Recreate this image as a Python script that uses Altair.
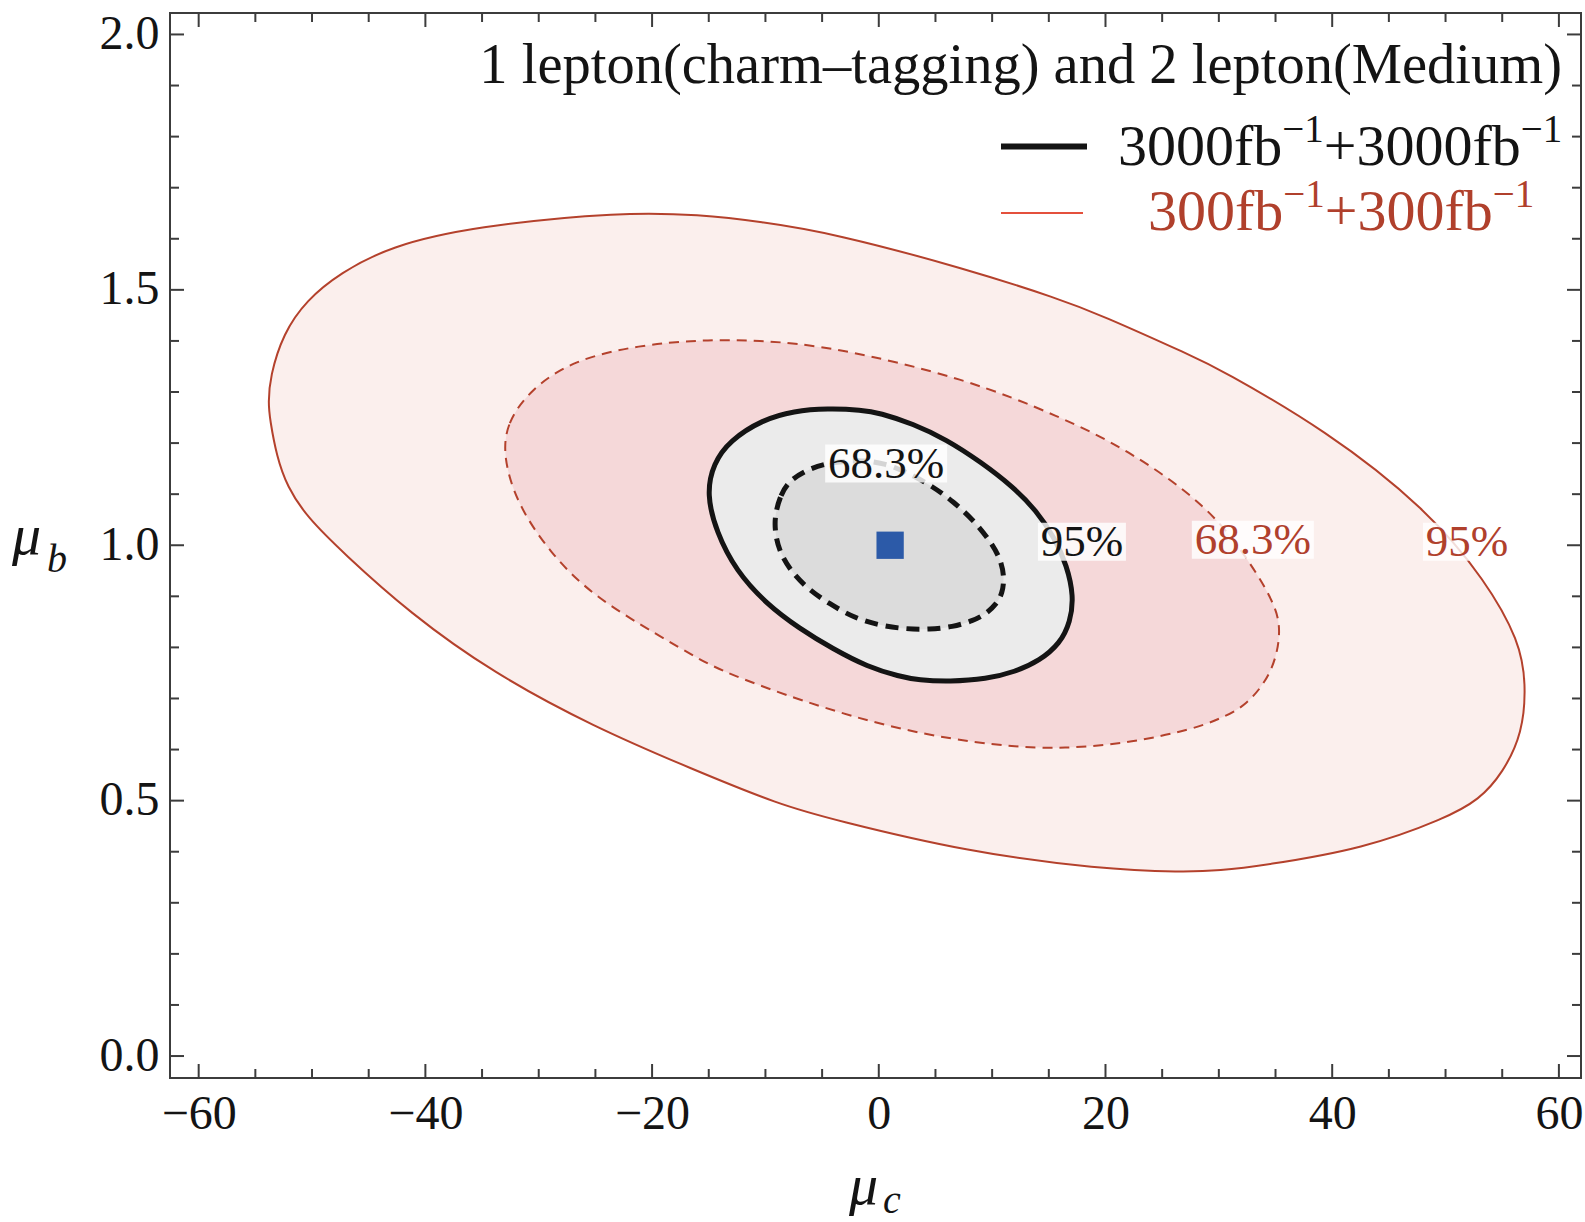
import altair as alt
import pandas as pd

# ---------------- data ----------------
X_DOMAIN = [-62.53, 61.95]
Y_DOMAIN = [-0.043, 2.042]
X_MAJOR = [-60, -40, -20, 0, 20, 40, 60]
X_MINOR = [-55, -50, -45, -35, -30, -25, -15, -10, -5, 5, 10, 15, 25, 30, 35, 45, 50, 55]
Y_MAJOR = [0.0, 0.5, 1.0, 1.5, 2.0]
Y_MINOR = [0.1, 0.2, 0.3, 0.4, 0.6, 0.7, 0.8, 0.9, 1.1, 1.2, 1.3, 1.4, 1.6, 1.7, 1.8, 1.9]

# 300 fb^-1 + 300 fb^-1 : 95% contour (solid red)
RED95_X = [-53.86, -53.71, -52.54, -50.48, -47.54, -43.13, -35.78, -22.56, -15.79, -10.50,
           -4.04, 7.72, 15.95, 19.48, 27.71, 30.06, 39.47, 48.29, 53.58, 56.52,
           57.11, 56.81, 55.04, 52.99, 49.96, 42.82, 33.91, 30.06, 26.83, 19.48,
           7.72, -4.04, -8.74, -16.38, -25.20, -34.02, -41.37, -47.25, -50.48, -52.20,
           -53.12, -53.71]
RED95_Y = [1.278, 1.330, 1.415, 1.480, 1.533, 1.585, 1.624, 1.653, 1.647, 1.634,
           1.611, 1.541, 1.482, 1.452, 1.370, 1.345, 1.225, 1.072, 0.930, 0.812,
           0.730, 0.632, 0.554, 0.502, 0.465, 0.406, 0.373, 0.363, 0.360, 0.366,
           0.400, 0.463, 0.492, 0.561, 0.645, 0.750, 0.867, 0.985, 1.056, 1.115,
           1.174, 1.246]

# 300 fb^-1 + 300 fb^-1 : 68.3% contour (dashed red)
RED68_X = [-33.14, -32.84, -30.78, -26.97, -21.08, -15.79, -10.79, -4.04, 7.72, 15.95,
           21.83, 29.18, 33.00, 35.06, 35.50, 34.76, 32.42, 30.06, 27.71, 22.42,
           16.53, 10.66, 1.84, -6.98, -13.44, -15.79, -19.32, -25.20, -29.02, -31.96]
RED68_Y = [1.174, 1.239, 1.304, 1.363, 1.392, 1.402, 1.402, 1.389, 1.326, 1.252,
           1.189, 1.076, 0.959, 0.880, 0.828, 0.750, 0.685, 0.660, 0.640, 0.614,
           0.601, 0.606, 0.637, 0.696, 0.750, 0.776, 0.822, 0.900, 0.985, 1.083]

# 3000 fb^-1 + 3000 fb^-1 : 95% contour (solid black)
BLK95_X = [-15.20, -14.60, -13.15, -10.24, -7.50, -4.50, -1.50, 0.08, 3.00, 5.96,
           9.00, 11.81, 13.90, 15.50, 16.60, 17.20, 16.90, 16.00, 14.20, 12.00,
           9.50, 6.25, 3.50, 1.84, -1.00, -4.04, -7.00, -9.91, -12.60, -14.32]
BLK95_Y = [1.100, 1.160, 1.205, 1.246, 1.263, 1.268, 1.265, 1.259, 1.238, 1.207,
           1.163, 1.115, 1.068, 1.015, 0.960, 0.900, 0.850, 0.808, 0.774, 0.752,
           0.738, 0.733, 0.736, 0.743, 0.762, 0.797, 0.837, 0.885, 0.950, 1.025]

# 3000 fb^-1 + 3000 fb^-1 : 68.3% contour (dashed black)
BLK68_X = [-9.18, -8.67, -7.86, -5.96, -4.00, -1.39, 0.50, 2.30, 4.78, 6.60,
           8.31, 9.70, 10.66, 11.10, 10.90, 10.37, 9.50, 8.31, 6.50, 4.49,
           2.30, 0.08, -2.20, -4.33, -6.30, -7.86, -8.80, -9.15]
BLK68_Y = [1.058, 1.099, 1.128, 1.152, 1.163, 1.167, 1.160, 1.145, 1.115, 1.085,
           1.050, 1.012, 0.978, 0.939, 0.905, 0.885, 0.866, 0.852, 0.840, 0.835,
           0.836, 0.843, 0.858, 0.885, 0.915, 0.952, 0.990, 1.025]

BEST_X = [1.0]
BEST_Y = [1.0]

LABEL_TEXT = ["68.3%", "95%", "68.3%", "95%"]
LABEL_X = [0.65, 17.92, 33.0, 51.89]
LABEL_Y = [1.160, 1.007, 1.011, 1.007]
LABEL_GROUP = ["black", "black", "red", "red"]

TITLE = "1 lepton(charm\u2013tagging) and 2 lepton(Medium)"

# ---------------- styles ----------------
FONT = "Liberation Serif"
RED_LINE = "#b4412c"
RED_TEXT = "#b0402c"
LEG_RED = "#e4503c"
INK = "#141414"
FRAME = "#3c3c3c"
W, H = 1411, 1065
MAJ, MIN = 14, 9

x_scale = alt.Scale(domain=X_DOMAIN, nice=False, zero=False)
y_scale = alt.Scale(domain=Y_DOMAIN, nice=False, zero=False)
x_axis = alt.Axis(values=X_MAJOR, format="d", title=None, ticks=False, tickSize=0,
                  domain=False, grid=False, labelFont=FONT, labelFontSize=48,
                  labelColor=INK, labelPadding=12, labelFlush=False, labelOverlap=False)
y_axis = alt.Axis(values=Y_MAJOR, format=".1f", title=None, ticks=False, tickSize=0,
                  domain=False, grid=False, labelFont=FONT, labelFontSize=48,
                  labelColor=INK, labelPadding=11, labelFlush=False, labelOverlap=False)


def X(field="x"):
    return alt.X(f"{field}:Q", scale=x_scale, axis=x_axis)


def Y(field="y"):
    return alt.Y(f"{field}:Q", scale=y_scale, axis=y_axis)


def contour(xs, ys, fill, stroke, width, dash=None):
    df = pd.DataFrame({"x": xs, "y": ys, "i": list(range(len(xs)))})
    props = dict(fill=fill, stroke=stroke, strokeWidth=width, interpolate="basis-closed")
    if dash:
        props["strokeDash"] = dash
    return alt.Chart(df).mark_line(**props).encode(x=X(), y=Y(), order=alt.Order("i:Q"))


layers = [
    contour(RED95_X, RED95_Y, "#fbefed", RED_LINE, 2),
    contour(RED68_X, RED68_Y, "#f5d8d9", RED_LINE, 2, [10, 7]),
    contour(BLK95_X, BLK95_Y, "#ebebeb", INK, 5),
    contour(BLK68_X, BLK68_Y, "#dcdcdc", INK, 5, [13, 8]),
]

best = alt.Chart(pd.DataFrame({"x": BEST_X, "y": BEST_Y})).mark_square(
    size=745, color="#2c5aa8", opacity=1).encode(x=X(), y=Y())
layers.append(best)

lab_df = pd.DataFrame({"x": LABEL_X, "y": LABEL_Y, "t": LABEL_TEXT, "g": LABEL_GROUP})
for text, half in [("68.3%", 61), ("95%", 44)]:
    layers.append(
        alt.Chart(lab_df).transform_filter(f"datum.t == '{text}'").mark_rect(
            fill="white", opacity=0.82, xOffset=-half, x2Offset=half, yOffset=-19, y2Offset=19
        ).encode(x=X(), x2=alt.X2("x"), y=Y(), y2=alt.Y2("y"))
    )
for grp, col in [("black", INK), ("red", RED_TEXT)]:
    layers.append(
        alt.Chart(lab_df).transform_filter(f"datum.g == '{grp}'").mark_text(
            font=FONT, fontSize=45, align="center", baseline="middle", color=col
        ).encode(x=X(), y=Y(), text="t:N")
    )

# frame ticks (inward, all four sides)
for vals, length in [(X_MAJOR, MAJ), (X_MINOR, MIN)]:
    base = alt.Chart(pd.DataFrame({"x": vals})).mark_rule(color=FRAME, strokeWidth=2)
    layers.append(base.encode(x=X(), y=alt.value(H), y2=alt.value(H - length)))
    layers.append(base.encode(x=X(), y=alt.value(0), y2=alt.value(length)))
for vals, length in [(Y_MAJOR, MAJ), (Y_MINOR, MIN)]:
    base = alt.Chart(pd.DataFrame({"y": vals})).mark_rule(color=FRAME, strokeWidth=2)
    layers.append(base.encode(y=Y(), x=alt.value(0), x2=alt.value(length)))
    layers.append(base.encode(y=Y(), x=alt.value(W), x2=alt.value(W - length)))

ONE = pd.DataFrame({"a": [0]})


def txt(s, x, y, size, color=INK, align="left", italic=False):
    props = dict(text=s, font=FONT, fontSize=size, align=align, baseline="alphabetic", color=color)
    if italic:
        props["fontStyle"] = "italic"
    return alt.Chart(ONE).mark_text(**props).encode(x=alt.value(x), y=alt.value(y))


ADV = {"3": 0.5, "0": 0.5, "f": 0.333, "b": 0.5, "+": 0.564, "\u2212": 0.564, "1": 0.5}


def rich(parts, x0, base, sup_base, color, main=58, sup=39):
    out = []
    x = x0
    for s, is_sup in parts:
        size = sup if is_sup else main
        out.append(txt(s, x, sup_base if is_sup else base, size, color))
        x += sum(ADV[c] for c in s) * size
    return out


# title
layers.append(txt(TITLE, 1392, 70, 56.5, INK, align="right"))

# legend
layers.append(alt.Chart(ONE).mark_rule(color=INK, strokeWidth=6).encode(
    x=alt.value(831), x2=alt.value(917), y=alt.value(133.5)))
layers.append(alt.Chart(ONE).mark_rule(color=LEG_RED, strokeWidth=2).encode(
    x=alt.value(831), x2=alt.value(913), y=alt.value(200)))
layers += rich([("3000fb", False), ("\u22121", True), ("+3000fb", False), ("\u22121", True)],
               948, 151.7, 129, INK)
layers += rich([("300fb", False), ("\u22121", True), ("+300fb", False), ("\u22121", True)],
               978, 216.7, 194, RED_TEXT)

# axis titles
layers.append(txt("\u03bc", -158, 541, 58, INK, italic=True))
layers.append(txt("b", -123, 559, 40, INK, italic=True))
layers.append(txt("\u03bc", 679, 1191, 58, INK, italic=True))
layers.append(txt("c", 713, 1200, 40, INK, italic=True))

chart = alt.layer(*layers).properties(
    width=W, height=H,
    autosize=alt.AutoSizeParams(type="none"),
    padding={"left": 170, "top": 13, "right": 4, "bottom": 144},
    background="white",
).configure_view(stroke=FRAME, strokeWidth=2)

chart.save("out.html", embed_options={"renderer": "svg", "actions": False})
